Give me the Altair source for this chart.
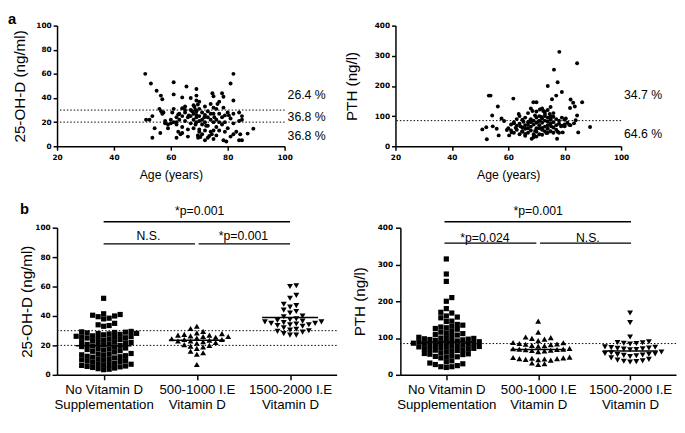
import json
import altair as alt
import pandas as pd

# ---------------- panel a : 25-OH-D vs age ----------------
vitd_age = [51, 53, 55, 56.5, 57, 61, 61, 65.5, 69, 64, 69, 69, 81, 82, 82, 78, 78.5,
            51.3, 52.5, 53.5, 54.3, 53.5, 56.3, 56, 56.6, 57.4, 58, 59, 60, 62, 62, 62.6, 63.4,
            60.5, 62.6, 64, 65, 66.3, 67, 67.5, 68.3, 68.7, 69.5, 70, 69, 70, 68.7, 69.5, 69.6,
            70.4, 71.8, 72.4, 72, 73.5, 74.4, 75, 75.3, 76, 76.4, 77, 74.6, 75, 78.5, 79.5, 81,
            82, 82, 80.4, 78.5, 84.4, 84, 85, 85, 85, 84, 87, 89, 79,
            57, 59, 60, 61, 62, 63, 63, 64, 64, 65, 65, 66, 66, 67, 67, 67, 68, 68, 68, 69, 69,
            69, 70, 70, 70, 71, 71, 71, 72, 72, 72, 73, 73, 73, 74, 74, 74, 75, 75, 75, 76, 76,
            77, 77, 78, 78, 79, 80, 80, 81, 82, 83, 84, 61, 64, 66, 71, 73, 75,
            58, 65, 68, 70, 72, 74, 76, 77, 79, 62]
vitd_val = [60, 52, 46, 42, 39, 53, 43, 49.5, 47.5, 40.5, 42, 38, 52, 60, 38, 44, 41,
            22, 22, 25, 15, 7, 11, 31, 29, 28, 19, 15, 22, 20, 7, 12, 10,
            28, 26.4, 31.5, 30, 25.6, 40, 29, 32.5, 30, 34.6, 37, 24, 21, 18, 9, 7,
            7.7, 24, 17, 5, 8.5, 10, 13, 24, 31, 35, 37, 44, 41.5, 5, 4, 8,
            10, 19, 25.6, 32, 10, 5, 5, 22, 25, 28, 10.5, 14.6, 25.6,
            27, 18, 19, 20, 18, 27, 22, 25, 16, 28, 21, 14, 24, 19, 25, 30, 22, 15, 27, 20, 26,
            29, 25, 14, 31, 22, 18, 28, 26, 13, 20, 24, 29, 17, 22, 27, 12, 20, 27, 32, 16, 22,
            27, 13, 24, 18, 20, 28, 15, 23, 27, 12, 21, 31, 11, 8, 10, 7, 6,
            21, 33, 34, 12, 33, 35, 9, 20, 12, 24]

# ---------------- panel a : PTH vs age ----------------
pth_age = [53.1, 53.7, 61.8, 56.3, 54.3, 50.8, 52.2, 52.4, 54.5, 55.9, 56.6, 57.6, 58.5, 59.5,
           60.3, 61.2, 62, 62.6, 63.7, 64.3, 65.4, 64.9, 66, 67, 67.8, 68.3, 68.6, 68.9, 70,
           69.5, 69.5, 69.1, 70.6, 71.2, 72.4, 71.8, 72, 73, 73.5, 74, 74.7, 75, 75.2, 75.5,
           76.2, 77, 77.5, 78.1, 79, 77.3, 77.5, 79.3, 80.4, 80, 81.9, 82.1, 83, 83.6, 83.3,
           83.9, 84.4, 84.4, 84.8, 86.2, 89, 81.6, 78.7,
           60, 61, 61, 62, 62, 63, 63, 63, 64, 64, 65, 65, 65, 66, 66, 66, 67, 67, 67, 68, 68,
           68, 68, 69, 69, 69, 69, 70, 70, 70, 70, 71, 71, 71, 71, 72, 72, 72, 72, 73, 73, 73,
           73, 74, 74, 74, 74, 74, 75, 75, 75, 75, 76, 76, 76, 76, 77, 77, 77, 78, 78, 78, 79,
           79, 80, 80, 81, 82, 66, 70, 72, 64, 67, 73, 75, 71, 68, 76, 74, 70]
pth_val = [168, 168, 158, 132, 102, 56, 63, 23, 66, 58, 36, 92, 84, 54,
           36, 46, 76, 61, 107, 66, 81, 48, 41, 71, 86, 25, 117, 146, 146,
           102, 51, 36, 81, 122, 117, 97, 61, 107, 44, 200, 107, 92, 66, 156,
           254, 168, 212, 313, 180, 25, 48, 46, 92, 66, 127, 155, 144, 132, 76,
           86, 102, 275, 46, 146, 64, 71, 66,
           60, 72, 52, 80, 45, 68, 90, 55, 75, 40, 62, 88, 50, 70, 95, 58, 45, 80, 110, 65, 90,
           52, 125, 72, 40, 85, 30, 60, 95, 115, 48, 70, 85, 40, 100, 55, 78, 92, 125, 65, 85, 50,
           115, 70, 95, 58, 82, 120, 75, 50, 100, 88, 62, 80, 45, 110, 70, 90, 55, 75, 85, 45, 68,
           95, 72, 88, 78, 70, 35, 32, 38, 100, 60, 100, 130, 60, 80, 98, 45, 78]

vitd_cuts = [20, 30]
pth_cuts = [85]
vitd_pct_text = ["26.4 %", "36.8 %", "36.8 %"]
vitd_pct_y = [42.5, 24.6, 8.5]
pth_pct_text = ["34.7 %", "64.6 %"]
pth_pct_y = [171, 40]

# ---------------- panel b : groups ----------------
group_labels = [["No Vitamin D", "Supplementation"], ["500-1000 I.E", "Vitamin D"],
                ["1500-2000 I.E", "Vitamin D"]]
group_shapes = ["square", "triangle-up", "triangle-down"]

vitd_g1 = [52, 41.5, 40.5, 39.5, 41, 38.5, 40, 38, 35, 34, 33.5, 33,
           29.5, 29.2, 29, 28.8, 28.5, 28.2, 28, 27.8, 27.5, 27.2,
           26.5, 26.2, 26, 25.8, 25.5, 25.2, 25, 24.7, 24.4, 24, 23.6, 23.2,
           22.5, 22.2, 22, 21.7, 21.4, 21, 20.7, 20.4, 20, 19.6, 19.2, 18.8,
           18.2, 17.8, 17.5, 17.2, 16.8, 16.4, 16, 15.5,
           14.5, 14.2, 14, 13.6, 13.3, 13, 12.6, 12.3, 12, 11.5,
           10.8, 10.5, 10.2, 10, 9.6, 9.3, 9, 8.5,
           7.8, 7.5, 7.2, 7, 6.7, 6.4, 6, 5.7, 5.4, 5, 4.6, 4.2, 3.8, 3.5]
vitd_g2 = [33, 31.5, 29.5, 28.5, 28, 27.5, 27, 27, 26.5, 26, 26, 25.5, 25, 24.5, 24, 24,
           23.5, 23, 23, 22.5, 22, 21.5, 20.5, 20, 19.5, 19, 18, 16, 15, 14, 7]
vitd_g3 = [60.5, 60, 54, 52, 48, 47, 46, 44, 43, 42, 40, 39.5, 38, 37.5, 37, 36.5, 36, 36,
           35.5, 35, 35, 34.5, 34, 34, 33.5, 33, 32, 31, 30.5, 30, 29.5, 29, 28, 27, 27]
vitd_means = [19.8, 23.5, 39.0]

pth_g1 = [315, 274, 254, 210, 200, 180, 170, 168, 160, 157, 155, 146, 145,
          137, 135, 132, 130, 128, 126, 124,
          118, 116, 114, 112, 110, 108,
          104, 102, 101, 100, 99, 98, 97, 96, 95, 94,
          92, 91, 90, 89, 88, 87, 86, 85, 84, 83,
          82, 81, 80, 79, 78, 77, 76, 75, 74,
          72, 71, 70, 69, 68, 67, 66, 65,
          62, 60, 58, 57, 56, 55,
          52, 50, 49, 48, 46,
          38, 35, 32, 30, 28, 25, 22, 20, 22]
pth_g2 = [146, 116, 103, 101, 99, 97, 93, 88, 87, 85, 84, 83, 82, 80, 79, 78, 72, 71, 70, 70,
          69, 68, 67, 66, 65, 63, 48, 47, 46, 45, 44, 44, 43, 42, 41, 40, 32, 30, 28]
pth_g3 = [168, 142, 103, 90, 88, 87, 86, 85, 84, 76, 75, 74, 73, 72, 71, 70, 69, 68, 62, 60,
          58, 57, 56, 55, 54, 53, 52, 50, 46, 42, 40, 38, 37, 36, 35]
pth_means = [89, 69, 65]

vitd_sig_x1 = [1, 1, 2.02]
vitd_sig_x2 = [3, 1.98, 3]
vitd_sig_y = [104, 89, 89]
vitd_sig_text = ["*p=0.001", "N.S.", "*p=0.001"]
vitd_sig_tx = [2.03, 1.48, 2.5]
vitd_sig_ty = [111, 94.5, 94]

pth_sig_x1 = [0.98, 0.98, 2.02]
pth_sig_x2 = [3.01, 1.98, 3.01]
pth_sig_y = [416, 358, 358]
pth_sig_text = ["*p=0.001", "*p=0.024", "N.S."]
pth_sig_tx = [2.0, 1.42, 2.54]
pth_sig_ty = [444, 373, 373]

panel_letters = ["a", "b"]

BLACK = "black"
LABEL_FONT = "DejaVu Sans"
TEXT_FONT = "Liberation Sans"


def swarm(groups, px_x, px_y, dxs, dy, sizes):
    recs = []
    for gi, vals in enumerate(groups, start=1):
        d = dxs[gi - 1]
        placed = []
        for v in sorted(vals):
            y = v * px_y
            k = 0
            while True:
                m = (k + 1) // 2
                c = m * d * (1 if k % 2 == 1 else -1)
                if all(abs(c - px) >= d - 1e-6 or abs(y - py) >= dy for px, py in placed):
                    break
                k += 1
            placed.append((c, y))
            recs.append({"x": gi + c / px_x, "v": v, "shape": group_shapes[gi - 1],
                         "size": sizes[gi - 1]})
    return pd.DataFrame(recs)


def scatter_panel(age, val, ymax, ystep, ytitle, cuts, pct_text, pct_y, w, h, tpad,
                  letter=None):
    xs = alt.Scale(domain=[20, 100], nice=False, zero=False)
    ys = alt.Scale(domain=[0, ymax], nice=False)
    xaxis = alt.Axis(values=[20, 40, 60, 80, 100], title="Age (years)", titleFontSize=12.5,
                     tickSize=4, labelPadding=4, titlePadding=7, labelFlush=False)
    yaxis = alt.Axis(values=list(range(0, ymax + 1, ystep)), title=ytitle, titleFontSize=15.5,
                     tickSize=4, labelPadding=2, titlePadding=tpad)
    pts = alt.Chart(pd.DataFrame({"age": age, "val": val})).mark_circle(
        size=16, color=BLACK, opacity=1).encode(
        x=alt.X("age:Q", scale=xs, axis=xaxis), y=alt.Y("val:Q", scale=ys, axis=yaxis))
    ref = alt.Chart(pd.DataFrame({"val": cuts})).mark_rule(
        color=BLACK, strokeWidth=1, strokeDash=[1.5, 2]).encode(
        y=alt.Y("val:Q", scale=ys, axis=yaxis))
    lab = alt.Chart(pd.DataFrame({"t": pct_text, "val": pct_y,
                                  "age": [100] * len(pct_y)})).mark_text(
        align="left", baseline="middle", dx=3, font=TEXT_FONT, fontSize=12.5, color=BLACK).encode(
        x=alt.X("age:Q", scale=xs, axis=xaxis), y=alt.Y("val:Q", scale=ys, axis=yaxis), text="t:N")
    layers = [pts, ref, lab]
    if letter is not None:
        let = alt.Chart(pd.DataFrame({"t": [letter]})).mark_text(
            align="left", baseline="alphabetic", dx=-50, dy=-2, font=TEXT_FONT, fontSize=15,
            fontWeight="bold", color=BLACK).encode(
            x=alt.value(0), y=alt.value(0), text="t:N")
        layers.append(let)
    return alt.layer(*layers).properties(width=w, height=h)


def group_panel(groups, means, cuts, sx1, sx2, sy, stext, stx, sty, ymax, ystep, ytitle,
                w, h, tpad, lpad):
    px_x = w / 3.0
    px_y = h / float(ymax)
    df = swarm(groups, px_x, px_y, [5.6, 6.4, 6.4], 4.8, [28, 36, 36])
    xs = alt.Scale(domain=[0.5, 3.5], nice=False, zero=False)
    ys = alt.Scale(domain=[0, ymax], nice=False)
    expr = "datum.value == 1 ? %s : datum.value == 2 ? %s : %s" % (
        json.dumps(group_labels[0]), json.dumps(group_labels[1]), json.dumps(group_labels[2]))
    xaxis = alt.Axis(values=[1, 2, 3], labelExpr=expr, title=None, labelFont=TEXT_FONT,
                     labelFontWeight="normal", labelFontSize=13.5, labelLineHeight=15,
                     labelOverlap=False, labelFlush=False, tickSize=5, labelPadding=3)
    yaxis = alt.Axis(values=list(range(0, ymax + 1, ystep)), title=ytitle, titleFontSize=15.5,
                     tickSize=5, labelPadding=lpad, titlePadding=tpad)
    X = lambda f: alt.X(f, scale=xs, axis=xaxis)
    Y = lambda f: alt.Y(f, scale=ys, axis=yaxis)
    pts = alt.Chart(df).mark_point(filled=True, color=BLACK, opacity=1).encode(
        x=X("x:Q"), y=Y("v:Q"),
        shape=alt.Shape("shape:N", scale=None), size=alt.Size("size:Q", scale=None))
    ref = alt.Chart(pd.DataFrame({"v": cuts})).mark_rule(
        color=BLACK, strokeWidth=1, strokeDash=[1.5, 2]).encode(y=Y("v:Q"))
    mdf = pd.DataFrame({"g": [1, 2, 3], "v": means})
    mdf["x"] = mdf["g"] - 0.3
    mdf["x2"] = mdf["g"] + 0.3
    mean = alt.Chart(mdf).mark_rule(color=BLACK, strokeWidth=1.5).encode(
        x=X("x:Q"), x2="x2:Q", y=Y("v:Q"))
    sig = alt.Chart(pd.DataFrame({"x": sx1, "x2": sx2, "v": sy})).mark_rule(
        color=BLACK, strokeWidth=1.5).encode(x=X("x:Q"), x2="x2:Q", y=Y("v:Q"))
    stxt = alt.Chart(pd.DataFrame({"t": stext, "x": stx, "v": sty})).mark_text(
        baseline="middle", font=TEXT_FONT, fontSize=12.5, color=BLACK).encode(
        x=X("x:Q"), y=Y("v:Q"), text="t:N")
    return alt.layer(pts, ref, mean, sig, stxt).properties(width=w, height=h)


tl = scatter_panel(vitd_age, vitd_val, 100, 20, "25-OH-D (ng/ml)", vitd_cuts,
                   vitd_pct_text, vitd_pct_y, 232, 123, 9, letter=panel_letters[0])
tr = scatter_panel(pth_age, pth_val, 400, 100, "PTH (ng/l)", pth_cuts,
                   pth_pct_text, pth_pct_y, 230, 123, 15)
bl = group_panel([vitd_g1, vitd_g2, vitd_g3], vitd_means, vitd_cuts, vitd_sig_x1, vitd_sig_x2,
                 vitd_sig_y, vitd_sig_text, vitd_sig_tx, vitd_sig_ty, 100, 20,
                 "25-OH-D (ng/ml)", 285, 150, 0, 2).properties(
    title=alt.TitleParams(panel_letters[1], anchor="start", frame="bounds", fontSize=15,
                          fontWeight="bold", font=TEXT_FONT, color=BLACK, offset=-12, dx=0))
br = group_panel([pth_g1, pth_g2, pth_g3], pth_means, pth_cuts, pth_sig_x1, pth_sig_x2,
                 pth_sig_y, pth_sig_text, pth_sig_tx, pth_sig_ty, 400, 100,
                 "PTH (ng/l)", 281, 150, 10, 3)

row_a = alt.hconcat(tl, tr, spacing=113, bounds="flush")
row_b = alt.hconcat(bl, br, spacing=65, bounds="flush")

chart = alt.vconcat(row_a, row_b, spacing=22).properties(padding=0).configure_view(
    stroke=None).configure_axis(
    domainColor=BLACK, domainWidth=1.5, tickColor=BLACK, tickWidth=1.5, labelColor=BLACK,
    titleColor=BLACK, labelFont=LABEL_FONT, labelFontWeight="bold", labelFontSize=7.5,
    titleFont=TEXT_FONT, titleFontWeight="normal", grid=False)

chart.save("out.html", embed_options={"renderer": "svg", "actions": False})
